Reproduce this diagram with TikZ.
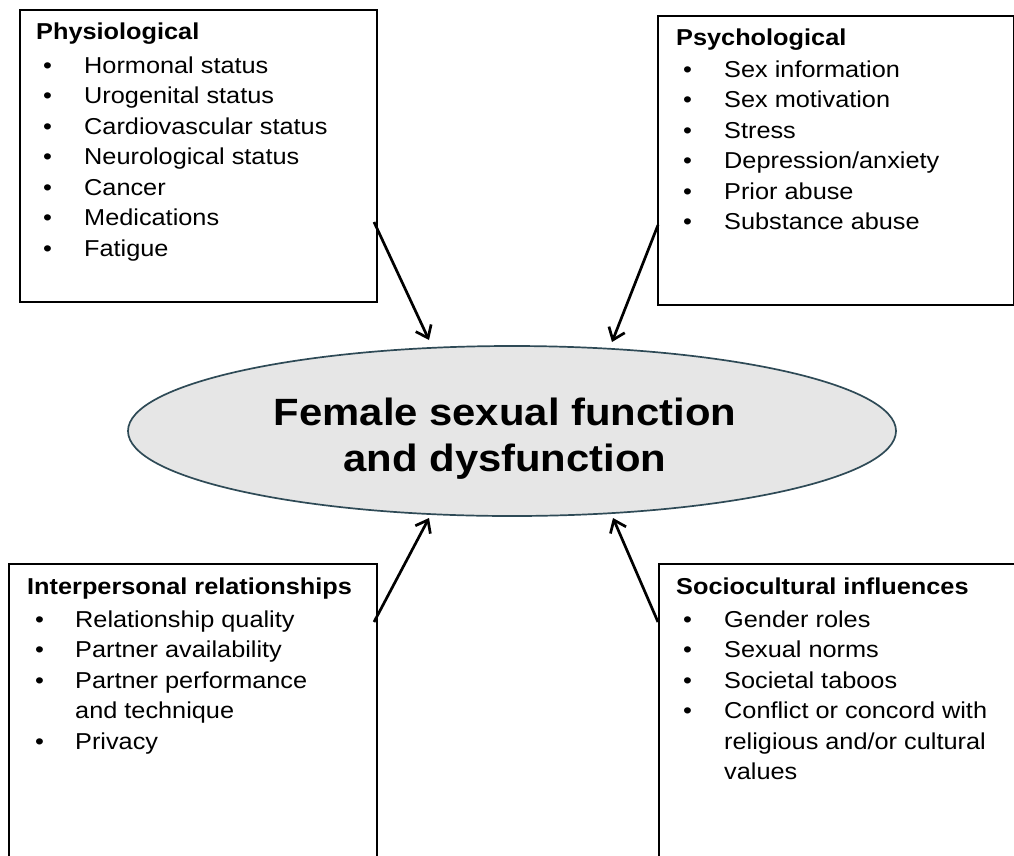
\documentclass[tikz,border=0pt]{standalone}
\usepackage{fontspec}
\setmainfont{Liberation Sans}[FakeStretch=1.1]
\usetikzlibrary{arrows.meta,shapes.geometric}
\definecolor{ellfill}{HTML}{E6E6E6}
\definecolor{elldraw}{HTML}{2E4A56}
\begin{document}
\begin{tikzpicture}[x=1pt,y=-1pt,
  box/.style={draw=black,line width=1.7pt,anchor=north west,inner sep=0pt},
  txt/.style={anchor=base west,inner sep=0pt,font=\fontsize{23}{30.5}\selectfont},
  arr/.style={line width=2.7pt,-{Straight Barb[length=11pt,width=17pt,line width=2.7pt]}},
  core/.style={ellipse,draw=elldraw,fill=ellfill,line width=1.7pt,inner sep=0pt,minimum width=768pt,minimum height=170pt}]
\clip (0,0) rectangle (1014,855);
% boxes
\node[box,minimum width=357pt,minimum height=292pt] (phys) at (19,9) {};
\node[box,minimum width=356pt,minimum height=289pt] (psych) at (657,15) {};
\node[box,minimum width=368pt,minimum height=320pt] (inter) at (8,563) {};
\node[box,minimum width=370pt,minimum height=320pt] (socio) at (658,563) {};
% box texts
\node[txt] (physt) at (36,39) {\begin{tabular}[t]{@{}p{48pt}@{}l@{}}
\multicolumn{2}{@{}l@{}}{\bfseries Physiological}\\[3.5pt]
\hspace*{7pt}\textbullet & Hormonal status\\
\hspace*{7pt}\textbullet & Urogenital status\\
\hspace*{7pt}\textbullet & Cardiovascular status\\
\hspace*{7pt}\textbullet & Neurological status\\
\hspace*{7pt}\textbullet & Cancer\\
\hspace*{7pt}\textbullet & Medications\\
\hspace*{7pt}\textbullet & Fatigue
\end{tabular}};
\node[txt] (psycht) at (676,45) {\begin{tabular}[t]{@{}p{48pt}@{}l@{}}
\multicolumn{2}{@{}l@{}}{\bfseries Psychological}\\[1.5pt]
\hspace*{7pt}\textbullet & Sex information\\
\hspace*{7pt}\textbullet & Sex motivation\\
\hspace*{7pt}\textbullet & Stress\\
\hspace*{7pt}\textbullet & Depression/anxiety\\
\hspace*{7pt}\textbullet & Prior abuse\\
\hspace*{7pt}\textbullet & Substance abuse
\end{tabular}};
\node[txt] (intert) at (27,594) {\begin{tabular}[t]{@{}p{48pt}@{}l@{}}
\multicolumn{2}{@{}l@{}}{\bfseries Interpersonal relationships}\\[2.5pt]
\hspace*{8pt}\textbullet & Relationship quality\\
\hspace*{8pt}\textbullet & Partner availability\\
\hspace*{8pt}\textbullet & Partner performance\\
 & and technique\\
\hspace*{8pt}\textbullet & Privacy
\end{tabular}};
\node[txt] (sociot) at (676,594) {\begin{tabular}[t]{@{}p{48pt}@{}l@{}}
\multicolumn{2}{@{}l@{}}{\bfseries Sociocultural influences}\\[2.5pt]
\hspace*{7pt}\textbullet & Gender roles\\
\hspace*{7pt}\textbullet & Sexual norms\\
\hspace*{7pt}\textbullet & Societal taboos\\
\hspace*{7pt}\textbullet & Conflict or concord with\\
 & religious and/or cultural\\
 & values
\end{tabular}};
% central ellipse
\node[core] (core) at (512,431) {};
\node[anchor=base,inner sep=0pt,font=\fontsize{38}{46}\selectfont\bfseries] (coret) at (505,425)
  {\begin{tabular}[t]{@{}c@{}}Female sexual function\\and dysfunction\end{tabular}};
% connector end points
\coordinate (a1) at (374,222);
\coordinate (b1) at (429,340);
\coordinate (a2) at (658,225);
\coordinate (b2) at (612,342);
\coordinate (a3) at (374,622);
\coordinate (b3) at (429,518);
\coordinate (a4) at (658,622);
\coordinate (b4) at (613,518);
\draw[arr] (a1) -- (b1);
\draw[arr] (a2) -- (b2);
\draw[arr] (a3) -- (b3);
\draw[arr] (a4) -- (b4);
\end{tikzpicture}
\end{document}
